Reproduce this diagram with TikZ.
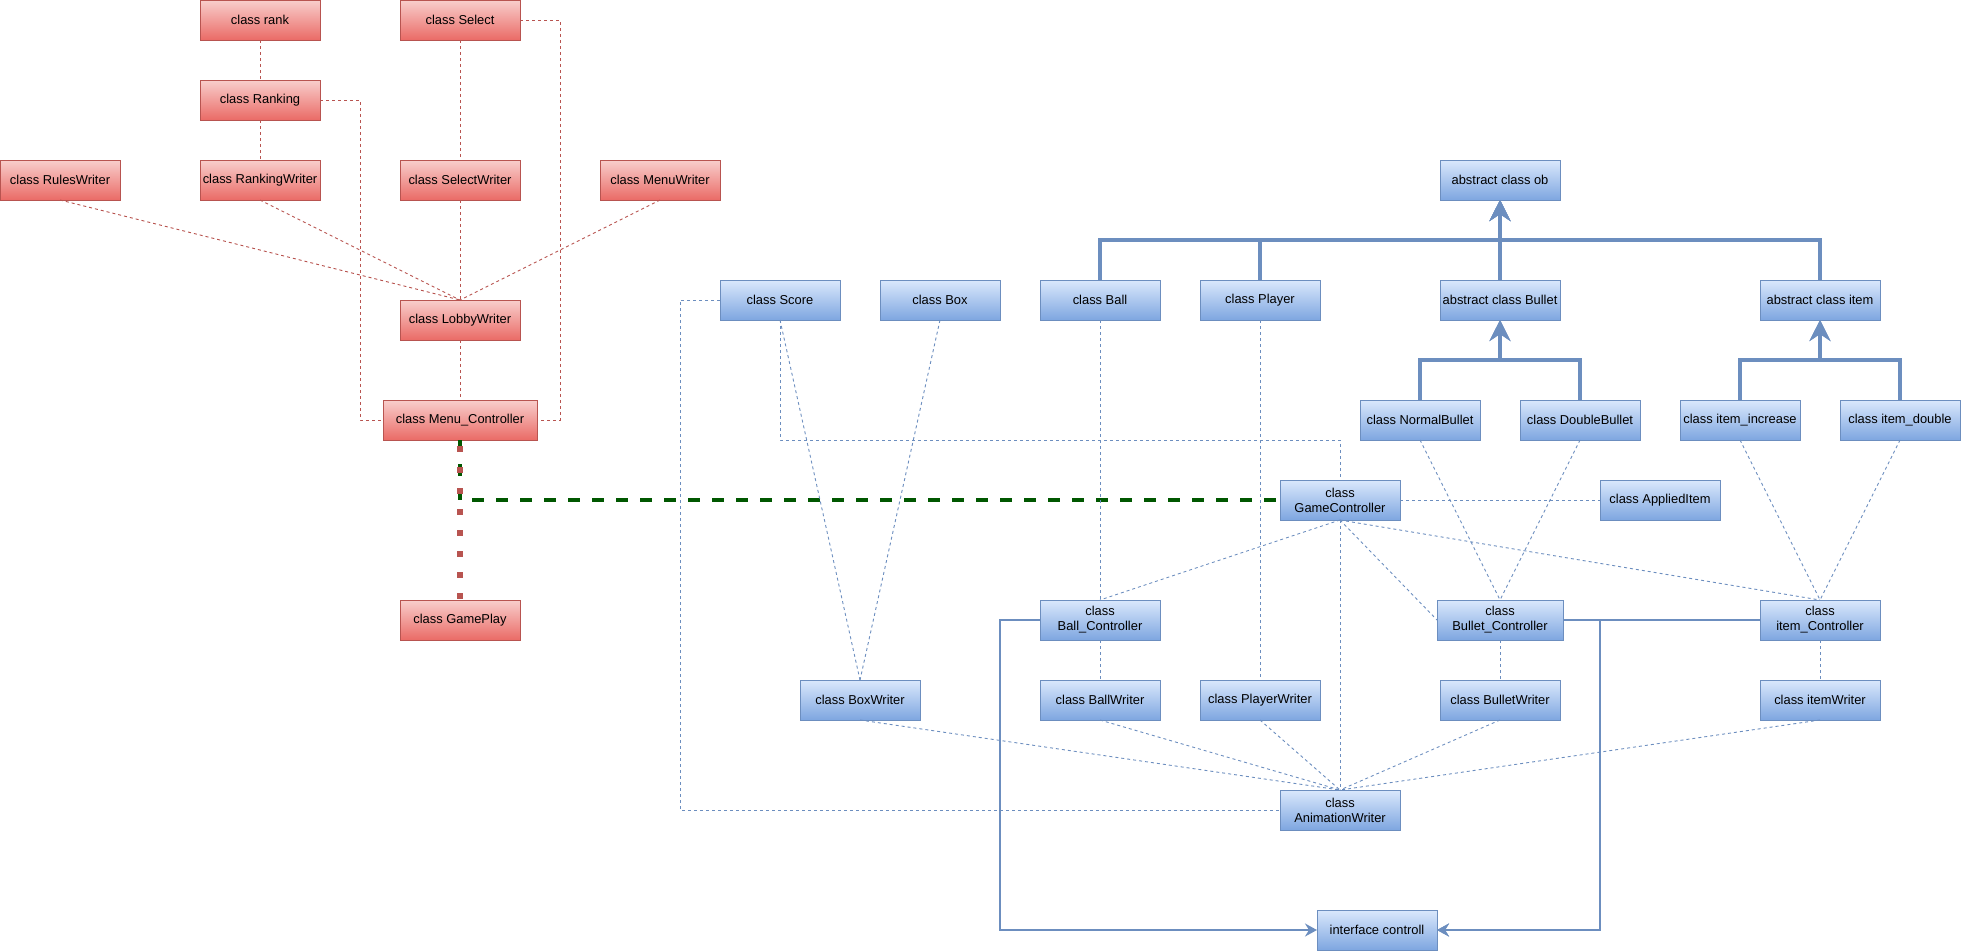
\documentclass[tikz,border=0pt]{standalone}
\usepackage{fontspec}
\setmainfont{Liberation Sans}
\usetikzlibrary{arrows.meta}
\definecolor{rfill}{HTML}{F8CECC}
\definecolor{rgrad}{HTML}{EA6B66}
\definecolor{rline}{HTML}{B85450}
\definecolor{bfill}{HTML}{DAE8FC}
\definecolor{bgrad}{HTML}{7EA6E0}
\definecolor{bline}{HTML}{6C8EBF}
\definecolor{dgreen}{HTML}{005700}
\tikzset{
  boxbase/.style={rectangle, minimum width=120pt, minimum height=40pt, inner sep=0pt, outer sep=0pt,
    line width=1pt, align=center, font=\fontsize{12.9}{15}\selectfont},
  rbox/.style={boxbase, draw=rline, top color=rfill, bottom color=rgrad},
  bbox/.style={boxbase, draw=bline, top color=bfill, bottom color=bgrad},
  rdash/.style={draw=rline, line width=0.9pt, dash pattern=on 3pt off 3pt},
  bdash/.style={draw=bline, line width=0.9pt, dash pattern=on 3pt off 3pt},
  gdash/.style={draw=dgreen, line width=4pt, dash pattern=on 12pt off 12pt},
  rdot/.style={draw=rline, line width=6.5pt, dash pattern=on 6pt off 15pt, dash phase=15pt},
  inh/.style={draw=bline, line width=4pt, -{Stealth[length=21pt,width=21pt,inset=7pt]}},
  impl/.style={draw=bline, line width=2pt, -{Stealth[length=12pt,width=13pt,inset=4pt]}}
}
\begin{document}
\begin{tikzpicture}[x=1pt,y=-1pt]
\useasboundingbox (0,0) rectangle (1961,951);
% red nodes
\node[rbox] (rank) at (260,20) {class rank};
\node[rbox] (select) at (460,20) {class Select};
\node[rbox] (ranking) at (260,100) {class Ranking};
\node[rbox] (rules) at (60,180) {class RulesWriter};
\node[rbox] (rankingw) at (260,180) {class RankingWriter};
\node[rbox] (selectw) at (460,180) {class SelectWriter};
\node[rbox] (menuw) at (660,180) {class MenuWriter};
\node[rbox] (lobby) at (460,320) {class LobbyWriter};
\node[rbox, minimum width=154pt] (menuc) at (460,420) {class Menu\_Controller};
\node[rbox] (gameplay) at (460,620) {class GamePlay};
% blue nodes
\node[bbox] (ob) at (1500,180) {abstract class ob};
\node[bbox] (score) at (780,300) {class Score};
\node[bbox] (box) at (940,300) {class Box};
\node[bbox] (ball) at (1100,300) {class Ball};
\node[bbox] (player) at (1260,300) {class Player};
\node[bbox] (bullet) at (1500,300) {abstract class Bullet};
\node[bbox] (item) at (1820,300) {abstract class item};
\node[bbox] (normal) at (1420,420) {class NormalBullet};
\node[bbox] (double) at (1580,420) {class DoubleBullet};
\node[bbox] (inc) at (1740,420) {class item\_increase};
\node[bbox] (idouble) at (1900,420) {class item\_double};
\node[bbox] (gamec) at (1340,500) {class\\GameController};
\node[bbox] (applied) at (1660,500) {class AppliedItem};
\node[bbox] (ballc) at (1100,620) {class\\Ball\_Controller};
\node[bbox, minimum width=126pt] (bulletc) at (1500,620) {class\\Bullet\_Controller};
\node[bbox] (itemc) at (1820,620) {class\\item\_Controller};
\node[bbox] (boxw) at (860,700) {class BoxWriter};
\node[bbox] (ballw) at (1100,700) {class BallWriter};
\node[bbox] (playerw) at (1260,700) {class PlayerWriter};
\node[bbox] (bulletw) at (1500,700) {class BulletWriter};
\node[bbox] (itemw) at (1820,700) {class itemWriter};
\node[bbox] (anim) at (1340,810) {class\\AnimationWriter};
\node[bbox] (ctrl) at (1377,930) {interface controll};
\coordinate (j) at (1600,620);
% red thin connectors
\draw[rdash] (rank.south) -- (ranking.north);
\draw[rdash] (ranking.south) -- (rankingw.north);
\draw[rdash] (ranking.east) -- ++(40,0) |- (menuc.west);
\draw[rdash] (select.south) -- (selectw.north);
\draw[rdash] (select.east) -- ++(40,0) |- (menuc.east);
\draw[rdash] (selectw.south) -- (lobby.north);
\draw[rdash] (rules.south) -- (lobby.north);
\draw[rdash] (rankingw.south) -- (lobby.north);
\draw[rdash] (menuw.south) -- (lobby.north);
\draw[rdash] (lobby.south) -- (menuc.north);
% green and red thick
\draw[gdash] (menuc.south) |- (gamec.west);
\draw[rdot] (menuc.south) -- (gameplay.north);
% blue dashed
\draw[bdash] (score.west) -- ++(-40,0) |- (anim.west);
\draw[bdash] (score.south) -- ++(0,120) -| (gamec.north);
\draw[bdash] (score.south) -- (boxw.north);
\draw[bdash] (box.south) -- (boxw.north);
\draw[bdash] (ball.south) -- (ballc.north);
\draw[bdash] (player.south) -- (playerw.north);
\draw[bdash] (normal.south) -- (bulletc.north);
\draw[bdash] (double.south) -- (bulletc.north);
\draw[bdash] (inc.south) -- (itemc.north);
\draw[bdash] (idouble.south) -- (itemc.north);
\draw[bdash] (gamec.east) -- (applied.west);
\draw[bdash] (gamec.south) -- (ballc.north);
\draw[bdash] (gamec.south) -- (bulletc.west);
\draw[bdash] (gamec.south) -- (itemc.north);
\draw[bdash] (gamec.south) -- (anim.north);
\draw[bdash] (ballc.south) -- (ballw.north);
\draw[bdash] (bulletc.south) -- (bulletw.north);
\draw[bdash] (itemc.south) -- (itemw.north);
\draw[bdash] (boxw.south) -- (anim.north);
\draw[bdash] (ballw.south) -- (anim.north);
\draw[bdash] (playerw.south) -- (anim.north);
\draw[bdash] (bulletw.south) -- (anim.north);
\draw[bdash] (itemw.south) -- (anim.north);
% inheritance
\draw[inh] (ball.north) -- ++(0,-40) -| (ob.south);
\draw[inh] (player.north) -- ++(0,-40) -| (ob.south);
\draw[inh] (item.north) -- ++(0,-40) -| (ob.south);
\draw[inh] (bullet.north) -- (ob.south);
\draw[inh] (normal.north) -- ++(0,-40) -| (bullet.south);
\draw[inh] (double.north) -- ++(0,-40) -| (bullet.south);
\draw[inh] (inc.north) -- ++(0,-40) -| (item.south);
\draw[inh] (idouble.north) -- ++(0,-40) -| (item.south);
% implementation
\draw[impl] (ballc.west) -- ++(-40,0) |- (ctrl.west);
\draw[impl] (bulletc.east) -- (j) |- (ctrl.east);
\draw[impl] (itemc.west) -- (j) |- (ctrl.east);
\end{tikzpicture}
\end{document}
